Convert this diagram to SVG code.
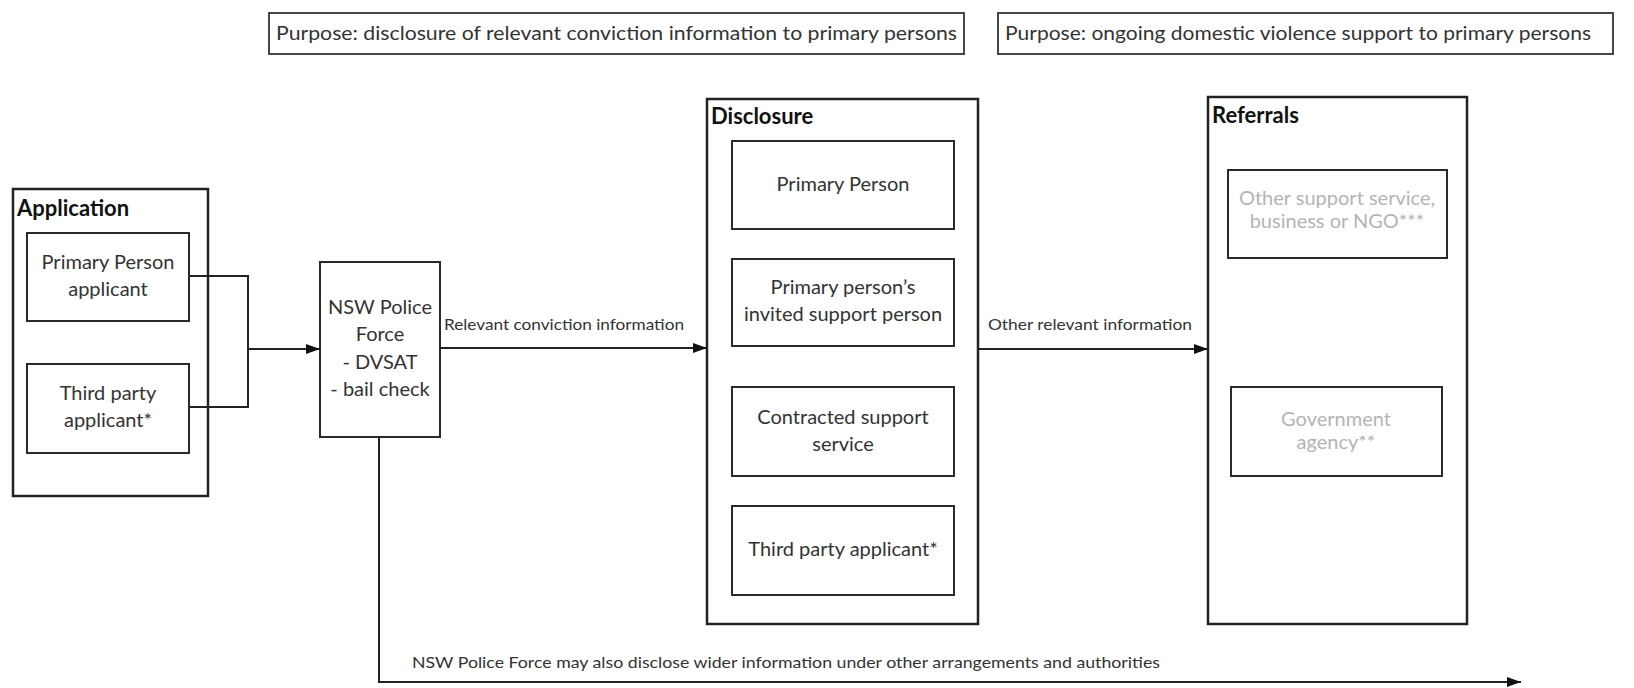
<svg xmlns="http://www.w3.org/2000/svg" width="1634" height="688" viewBox="0 0 1634 688">
<style>
.bg{fill:#fff}
.outer{fill:#fff;stroke:#222;stroke-width:2.5}
.inner{fill:#fff;stroke:#2a2a2a;stroke-width:2}
.purpose{fill:#fff;stroke:#333;stroke-width:1.8}
.t{font-family:Lato,"Open Sans",sans-serif;font-size:20px;fill:#333;text-anchor:middle}
.faint{fill:#b4b4b4}
.title{font-family:Lato,"Open Sans",sans-serif;font-size:22px;font-weight:bold;fill:#111}
.lbl{font-family:Lato,"Open Sans",sans-serif;font-size:16px;fill:#333}
.ptxt{font-family:Lato,"Open Sans",sans-serif;font-size:19.5px;fill:#333}
.conn{fill:none;stroke:#222;stroke-width:2}
</style>
<defs>
<marker id="arr" viewBox="0 0 14 10" refX="14" refY="5" markerWidth="14" markerHeight="10" markerUnits="userSpaceOnUse" orient="auto">
<path d="M0,0 L14,5 L0,10 z" fill="#111"/>
</marker>
</defs>
<rect class="bg" x="0" y="0" width="1634" height="688"/>

<g id="purpose1">
<rect class="purpose" x="269" y="13" width="695" height="41"/>
<text class="ptxt" x="276" y="40" textLength="681" lengthAdjust="spacingAndGlyphs">Purpose: disclosure of relevant conviction information to primary persons</text>
</g>
<g id="purpose2">
<rect class="purpose" x="998" y="13" width="615" height="41"/>
<text class="ptxt" x="1005" y="40" textLength="586" lengthAdjust="spacingAndGlyphs">Purpose: ongoing domestic violence support to primary persons</text>
</g>

<g id="application">
<rect class="outer" x="13" y="189" width="195" height="307"/>
<text class="title" x="17" y="216">Application</text>
</g>
<g id="primary-applicant">
<rect class="inner" x="27" y="233" width="162" height="88"/>
<text class="t" x="108" y="269">Primary Person</text>
<text class="t" x="108" y="296">applicant</text>
</g>
<g id="third-party-applicant">
<rect class="inner" x="27" y="364" width="162" height="89"/>
<text class="t" x="108" y="400">Third party</text>
<text class="t" x="108" y="427">applicant*</text>
</g>

<g id="nsw-police">
<rect class="inner" x="320" y="262" width="120" height="175"/>
<text class="t" x="380" y="314">NSW Police</text>
<text class="t" x="380" y="341">Force</text>
<text class="t" x="380" y="369">- DVSAT</text>
<text class="t" x="380" y="396">- bail check</text>
</g>

<g id="disclosure">
<rect class="outer" x="707" y="99" width="271" height="525"/>
<text class="title" x="711" y="124">Disclosure</text>
</g>
<g id="primary-person">
<rect class="inner" x="732" y="141" width="222" height="88"/>
<text class="t" x="843" y="191">Primary Person</text>
</g>
<g id="support-person">
<rect class="inner" x="732" y="259" width="222" height="87"/>
<text class="t" x="843" y="294">Primary person’s</text>
<text class="t" x="843" y="321">invited support person</text>
</g>
<g id="contracted-service">
<rect class="inner" x="732" y="387" width="222" height="89"/>
<text class="t" x="843" y="424">Contracted support</text>
<text class="t" x="843" y="451">service</text>
</g>
<g id="third-party-disclosure">
<rect class="inner" x="732" y="506" width="222" height="89"/>
<text class="t" x="843" y="556">Third party applicant*</text>
</g>

<g id="referrals">
<rect class="outer" x="1208" y="97" width="259" height="527"/>
<text class="title" x="1212" y="123">Referrals</text>
</g>
<g id="other-support">
<rect class="inner" x="1228" y="170" width="219" height="88"/>
<text class="t faint" x="1337" y="205">Other support service,</text>
<text class="t faint" x="1337" y="228">business or NGO***</text>
</g>
<g id="government">
<rect class="inner" x="1231" y="387" width="211" height="89"/>
<text class="t faint" x="1336" y="426">Government</text>
<text class="t faint" x="1336" y="449">agency**</text>
</g>

<g id="connectors">
<polyline class="conn" points="189,276 248,276 248,407 189,407"/>
<line class="conn" x1="248" y1="349" x2="320" y2="349" marker-end="url(#arr)"/>
<line class="conn" x1="440" y1="348" x2="707" y2="348" marker-end="url(#arr)"/>
<text class="lbl" x="444" y="330" textLength="240" lengthAdjust="spacingAndGlyphs">Relevant conviction information</text>
<line class="conn" x1="978" y1="349" x2="1208" y2="349" marker-end="url(#arr)"/>
<text class="lbl" x="988" y="330" textLength="204" lengthAdjust="spacingAndGlyphs">Other relevant information</text>
<polyline class="conn" points="379,437 379,682 1521,682" marker-end="url(#arr)"/>
<text class="lbl" x="412" y="668" textLength="748" lengthAdjust="spacingAndGlyphs">NSW Police Force may also disclose wider information under other arrangements and authorities</text>
</g>
</svg>
